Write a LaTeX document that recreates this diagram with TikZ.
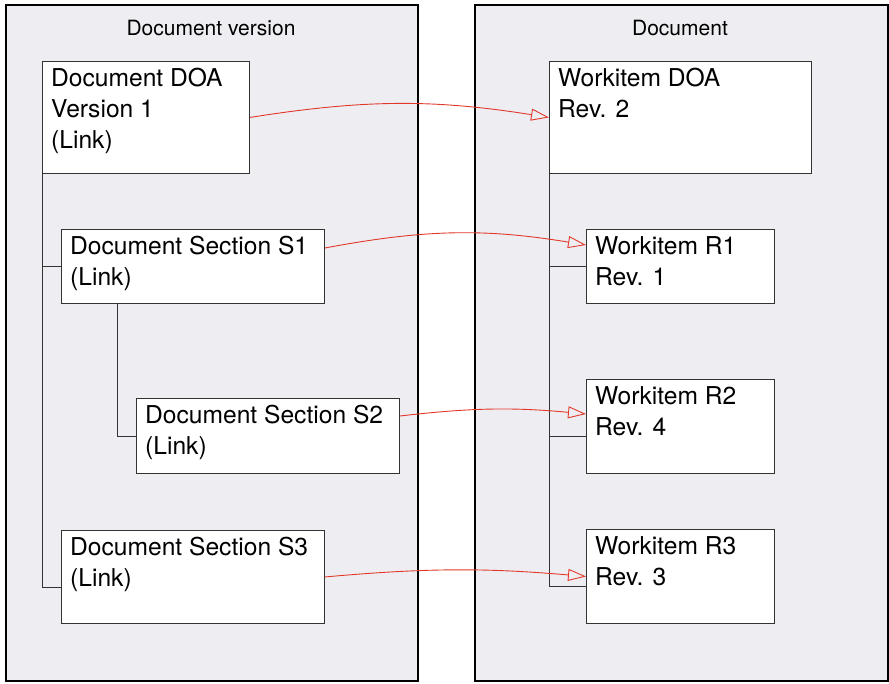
\documentclass[tikz,border=0pt]{standalone}
\usepackage{fontspec}
\setmainfont{TeX Gyre Heros}
\usetikzlibrary{arrows.meta}
\definecolor{panelfill}{HTML}{EEEDF2}
\definecolor{linkred}{HTML}{E2382A}

\begin{document}
\begin{tikzpicture}[x=1pt,y=-1pt,
  panel/.style 2 args={draw=black, line width=2pt, fill=panelfill, anchor=north west,
    inner sep=0pt, minimum width=#1, minimum height=#2},
  card/.style 2 args={draw=black!80, line width=0.9pt, fill=white, anchor=north west,
    inner sep=0pt, minimum width=#1, minimum height=#2},
  cardtext/.style={anchor=north west, align=left, inner xsep=9pt, inner ysep=7pt,
    font=\fontsize{24.6}{31}\selectfont},
  paneltitle/.style={font=\fontsize{21}{25}\selectfont},
  tree/.style={draw=black!80, line width=0.9pt},
  link/.style={draw=linkred, line width=0.9pt,
    -{Triangle[open, length=18pt, width=12pt]}}]
\useasboundingbox (0,0) rectangle (889,683);

% panels
\node [panel={412pt}{676pt}] (ver) at (5,4) {};
\node [panel={413pt}{676pt}] (doc) at (474,4) {};
\node [paneltitle] (vertitle) at (211,28) {Document version};
\node [paneltitle] (doctitle) at (680,28) {Document};

% document version side
\node [card={207pt}{112pt}, label={[cardtext]north west:Document DOA\\Version 1\\(Link)}] (doa) at (42,61) {};
\node [card={263pt}{74pt}, label={[cardtext]north west:Document Section S1\\(Link)}] (s1) at (61,229) {};
\node [card={263pt}{75pt}, label={[cardtext]north west:Document Section S2\\(Link)}] (s2) at (136,398) {};
\node [card={263pt}{93pt}, label={[cardtext]north west:Document Section S3\\(Link)}] (s3) at (61,530) {};

% document side
\node [card={262pt}{112pt}, label={[cardtext]north west:Workitem DOA\\Rev. 2}] (wdoa) at (549,61) {};
\node [card={188pt}{74pt}, label={[cardtext]north west:Workitem R1\\Rev. 1}] (r1) at (586,229) {};
\node [card={188pt}{94pt}, label={[cardtext]north west:Workitem R2\\Rev. 4}] (r2) at (586,379) {};
\node [card={188pt}{94pt}, label={[cardtext]north west:Workitem R3\\Rev. 3}] (r3) at (586,529) {};

% tree joints
\coordinate (s3j) at ([yshift=-57pt]s3.north west);
\coordinate (r2j) at ([yshift=-57pt]r2.north west);
\coordinate (r3j) at ([yshift=-57pt]r3.north west);

% tree lines
\draw [tree] (doa.south west) |- (s3j);
\draw [tree] (doa.south west |- s1.west) -- (s1.west);
\draw [tree] ([xshift=56pt]s1.south west) |- (s2.west);
\draw [tree] (wdoa.south west) |- (r3j);
\draw [tree] (wdoa.south west |- r1.west) -- (r1.west);
\draw [tree] (wdoa.south west |- r2j) -- (r2j);

% links
\draw [link] (doa.east) to[bend left=9] (wdoa.west);
\draw [link] ([yshift=-19pt]s1.north east) to[bend left=10] ([yshift=-16pt]r1.north west);
\draw [link] ([yshift=-18pt]s2.north east) to[bend left=6] ([yshift=-35pt]r2.north west);
\draw [link] (s3.east) to[bend left=5] (r3.west);
\end{tikzpicture}
\end{document}
